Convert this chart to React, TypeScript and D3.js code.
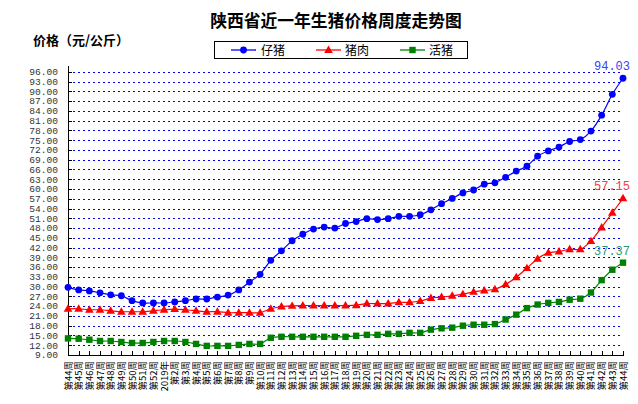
import React from "react";
import * as d3 from "d3";

const weekLabels: string[] = [
  "第44周","第45周","第46周","第47周","第48周","第49周","第50周","第51周","第52周","2019年",
  "第2周","第3周","第4周","第5周","第6周","第7周","第8周","第9周","第10周","第11周",
  "第12周","第13周","第14周","第15周","第16周","第17周","第18周","第19周","第20周","第21周",
  "第22周","第23周","第24周","第25周","第26周","第27周","第28周","第29周","第30周","第31周",
  "第32周","第33周","第34周","第35周","第36周","第37周","第38周","第39周","第40周","第41周",
  "第42周","第43周","第44周",
];

const piglet: number[] = [
  29.8, 29.0, 28.7, 28.1, 27.5, 27.2, 25.7, 25.0, 25.0, 25.0,
  25.3, 25.7, 26.2, 26.2, 26.8, 27.4, 29.0, 31.4, 33.8, 38.1,
  41.0, 44.1, 46.1, 47.7, 48.3, 48.0, 49.4, 50.0, 50.9, 50.6,
  50.9, 51.6, 51.6, 52.1, 53.6, 55.5, 57.1, 58.8, 59.7, 61.5,
  61.9, 63.6, 65.5, 67.0, 70.1, 71.7, 72.9, 74.6, 75.2, 77.8,
  82.7, 89.1, 94.03,
];

const pork: number[] = [
  23.2, 23.2, 22.9, 22.9, 22.6, 22.3, 22.3, 22.3, 22.6, 22.9,
  23.1, 22.9, 22.6, 22.3, 22.3, 22.0, 22.0, 22.0, 22.0, 23.2,
  23.9, 24.1, 24.2, 24.2, 24.2, 24.2, 24.2, 24.3, 24.8, 24.8,
  24.8, 25.2, 25.2, 25.6, 26.5, 26.8, 27.2, 27.7, 28.4, 28.8,
  29.2, 30.7, 32.9, 35.7, 38.6, 40.4, 40.8, 41.5, 41.5, 44.0,
  48.2, 52.7, 57.15,
];

const liveHog: number[] = [
  14.1, 14.0, 13.7, 13.3, 13.3, 13.0, 12.7, 12.7, 13.0, 13.3,
  13.3, 13.0, 12.4, 11.8, 11.8, 11.8, 12.1, 12.4, 12.4, 14.3,
  14.6, 14.6, 14.6, 14.6, 14.6, 14.6, 14.6, 14.9, 15.2, 15.2,
  15.5, 15.5, 15.8, 15.8, 16.8, 17.2, 17.4, 18.0, 18.3, 18.3,
  18.5, 19.9, 21.4, 23.4, 24.5, 25.0, 25.3, 26.0, 26.3, 28.2,
  32.0, 35.2, 37.37,
];

const yTicks: number[] = d3.range(9, 97, 3);

const seriesNames = ["仔猪", "猪肉", "活猪"];
const seriesColors = ["#0000ff", "#ff0000", "#008000"];
const labelColors = ["#4040f0", "#f04040", "#2f9a70"];
const seriesData = [piglet, pork, liveHog];
const markerTypes = ["circle", "triangle", "square"];

const W = 638;
const H = 404;
const left = 68;
const right = 623;
const top = 66;
const bottom = 355;

function Marker({ type, x, y, color }: { type: string; x: number; y: number; color: string }) {
  if (type === "circle") return <circle cx={x} cy={y} r={3.4} fill={color} />;
  if (type === "square") return <rect x={x - 3.2} y={y - 3.2} width={6.4} height={6.4} fill={color} />;
  const s = d3.symbol().type(d3.symbolTriangle).size(32)();
  return <path d={s || ""} transform={`translate(${x},${y + 0.5})`} fill={color} />;
}

export default function App() {
  const idx = d3.range(weekLabels.length);
  const x = d3.scalePoint<number>().domain(idx).range([left, right]);
  const y = d3.scaleLinear().domain([9, 97.8]).range([bottom, top]);
  const line = d3
    .line<number>()
    .x((_, i) => x(i) as number)
    .y((d) => y(d))
    .curve(d3.curveCardinal.tension(0.2));

  const legendItems = [
    { lx: 231, tx: 261 },
    { lx: 316, tx: 345 },
    { lx: 400, tx: 429 },
  ];

  return (
    <div style={{ position: "fixed", left: 0, top: 0, background: "#fff" }}>
      <svg width={W} height={H} style={{ display: "block", background: "#fff" }}>
        <text x={336} y={27} textAnchor="middle" fontFamily="'Noto Sans CJK SC', sans-serif" fontWeight="bold" fontSize={16.8} fill="#000">
          陕西省近一年生猪价格周度走势图
        </text>
        <text x={33} y={45} fontFamily="'Noto Sans CJK SC', sans-serif" fontWeight="bold" fontSize={13} fill="#000">
          价格（元/公斤）
        </text>

        {/* legend */}
        <rect x={214.5} y={41.5} width={253} height={17} fill="#fff" stroke="#000" strokeWidth={1} />
        {legendItems.map((it, i) => (
          <g key={i}>
            <line x1={it.lx} x2={it.lx + 25} y1={50} y2={50} stroke={seriesColors[i]} strokeWidth={1.3} />
            <Marker type={markerTypes[i]} x={it.lx + 12.5} y={50} color={seriesColors[i]} />
            <text x={it.tx} y={54.5} fontFamily="'Noto Sans CJK SC', sans-serif" fontSize={12} fill="#000">
              {seriesNames[i]}
            </text>
          </g>
        ))}

        {/* gridlines */}
        {yTicks.map((t) => (
          <line key={t} x1={left} x2={right} y1={Math.round(y(t)) + 0.5} y2={Math.round(y(t)) + 0.5} stroke="#0000ff" strokeWidth={1} strokeDasharray="2,3" />
        ))}

        {/* y axis */}
        <line x1={left + 0.5} x2={left + 0.5} y1={top} y2={bottom} stroke="#000" strokeWidth={1} />
        {yTicks.map((t) => (
          <g key={t}>
            <line x1={left} x2={left + 4} y1={Math.round(y(t)) + 0.5} y2={Math.round(y(t)) + 0.5} stroke="#000" />
            <text x={58} y={y(t) + 3.3} textAnchor="end" fontFamily="'Liberation Mono', 'DejaVu Sans Mono', monospace" fontSize={9.6} fill="#333">
              {t.toFixed(2)}
            </text>
          </g>
        ))}

        {/* x axis */}
        <line x1={left} x2={right + 1} y1={bottom + 0.5} y2={bottom + 0.5} stroke="#000" strokeWidth={1.2} />
        {idx.map((i) => (
          <g key={i}>
            <line x1={Math.round(x(i) as number) + 0.5} x2={Math.round(x(i) as number) + 0.5} y1={bottom} y2={bottom - 4} stroke="#000" />
            <text
              transform={`translate(${(x(i) as number) + 3.5},${bottom + 6}) rotate(-90)`}
              textAnchor="end"
              fontFamily="'Noto Sans CJK SC', sans-serif"
              fontSize={9.5}
              fill="#000"
            >
              {weekLabels[i]}
            </text>
          </g>
        ))}

        {/* series */}
        {seriesData.map((data, s) => (
          <g key={s}>
            <path d={line(data) || ""} fill="none" stroke={seriesColors[s]} strokeWidth={1.2} />
            {data.map((v, i) => (
              <Marker key={i} type={markerTypes[s]} x={x(i) as number} y={y(v)} color={seriesColors[s]} />
            ))}
            <text
              x={630}
              y={y(data[data.length - 1]) - 8}
              textAnchor="end"
              fontFamily="'Liberation Mono', 'DejaVu Sans Mono', monospace"
              fontSize={12}
              fill={labelColors[s]}
            >
              {data[data.length - 1].toFixed(2)}
            </text>
          </g>
        ))}
      </svg>
    </div>
  );
}
